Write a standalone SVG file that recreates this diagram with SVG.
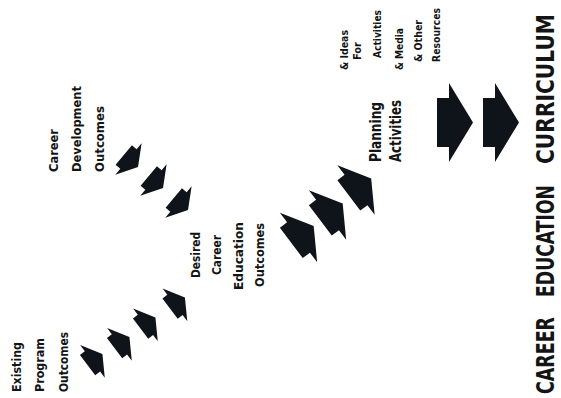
<svg xmlns="http://www.w3.org/2000/svg" width="561" height="398" viewBox="0 0 561 398">
<style>
 text { font-family: "Liberation Sans Narrow","DejaVu Sans Condensed","Liberation Sans",sans-serif; font-weight: bold; fill: #141414; }
 .s { font-size: 12.5px; }
 .m { font-size: 15px; }
 .xs { font-size: 10px; }
 .l { font-size: 24px; }
 .arrow { fill: #0f131a; }
</style>
<defs>
 <path id="aBig" d="M-18,-24.5H-6V-39.5L18,0L-6,39.5V24.5H-18Z"/>
 <path id="aMid" d="M-14,-19H-5V-31L14,0L-5,31V19H-14Z"/>
 <path id="aSm" d="M-9.3,-12.7H-3.2V-20.5L9.3,0L-3.2,20.5V12.7H-9.3Z"/>
</defs>
<rect width="561" height="398" fill="#fff"/>
<g id="node-existing">
 <text class="s" transform="translate(21,392) rotate(-90)" textLength="50" lengthAdjust="spacingAndGlyphs">Existing</text>
 <text class="s" transform="translate(44,392) rotate(-90)" textLength="54" lengthAdjust="spacingAndGlyphs">Program</text>
 <text class="s" transform="translate(68,392) rotate(-90)" textLength="60" lengthAdjust="spacingAndGlyphs">Outcomes</text>
</g>
<g id="node-career-development">
 <text class="s" transform="translate(58,172) rotate(-90)" textLength="43" lengthAdjust="spacingAndGlyphs">Career</text>
 <text class="s" transform="translate(81,172) rotate(-90)" textLength="86" lengthAdjust="spacingAndGlyphs">Development</text>
 <text class="s" transform="translate(104,172) rotate(-90)" textLength="66" lengthAdjust="spacingAndGlyphs">Outcomes</text>
</g>
<g id="node-desired">
 <text class="s" transform="translate(200,278) rotate(-90)" textLength="46" lengthAdjust="spacingAndGlyphs">Desired</text>
 <text class="s" transform="translate(221,275) rotate(-90)" textLength="40" lengthAdjust="spacingAndGlyphs">Career</text>
 <text class="s" transform="translate(243,290) rotate(-90)" textLength="68" lengthAdjust="spacingAndGlyphs">Education</text>
 <text class="s" transform="translate(264,287) rotate(-90)" textLength="64" lengthAdjust="spacingAndGlyphs">Outcomes</text>
</g>
<g id="node-planning">
 <text class="m" transform="translate(381,162) rotate(-90)" textLength="60" lengthAdjust="spacingAndGlyphs">Planning</text>
 <text class="m" transform="translate(401,162) rotate(-90)" textLength="62" lengthAdjust="spacingAndGlyphs">Activities</text>
</g>
<g id="node-resources">
 <text class="xs" transform="translate(348,70) rotate(-90)" textLength="40" lengthAdjust="spacingAndGlyphs">&amp; Ideas</text>
 <text class="xs" transform="translate(361,60) rotate(-90)" textLength="18" lengthAdjust="spacingAndGlyphs">For</text>
 <text class="xs" transform="translate(381,58) rotate(-90)" textLength="48" lengthAdjust="spacingAndGlyphs">Activities</text>
 <text class="xs" transform="translate(403,70) rotate(-90)" textLength="42" lengthAdjust="spacingAndGlyphs">&amp; Media</text>
 <text class="xs" transform="translate(422,62) rotate(-90)" textLength="42" lengthAdjust="spacingAndGlyphs">&amp; Other</text>
 <text class="xs" transform="translate(440,62) rotate(-90)" textLength="54" lengthAdjust="spacingAndGlyphs">Resources</text>
</g>
<g id="node-curriculum">
 <text class="l" transform="translate(554,394) rotate(-90)"><tspan x="0" textLength="77" lengthAdjust="spacingAndGlyphs">CAREER</tspan> <tspan x="97" textLength="112" lengthAdjust="spacingAndGlyphs">EDUCATION</tspan> <tspan x="230" textLength="150" lengthAdjust="spacingAndGlyphs">CURRICULUM</tspan></text>
</g>
<g id="connectors" class="arrow">
 <use href="#aSm" transform="translate(95,359.5) rotate(-37)"/>
 <use href="#aSm" transform="translate(122,342.5) rotate(-37)"/>
 <use href="#aSm" transform="translate(148,323) rotate(-37)"/>
 <use href="#aSm" transform="translate(177.5,303) rotate(-37)"/>
 <use href="#aSm" transform="translate(130.9,161) rotate(40)"/>
 <use href="#aSm" transform="translate(155.9,182) rotate(40)"/>
 <use href="#aSm" transform="translate(180.9,204) rotate(40)"/>
 <use href="#aMid" transform="translate(302.5,234.5) rotate(-37)"/>
 <use href="#aMid" transform="translate(331.5,212) rotate(-37)"/>
 <use href="#aMid" transform="translate(360,187) rotate(-37)"/>
 <use href="#aBig" transform="translate(455,122.5)"/>
 <use href="#aBig" transform="translate(501,122.5)"/>
</g>
</svg>
